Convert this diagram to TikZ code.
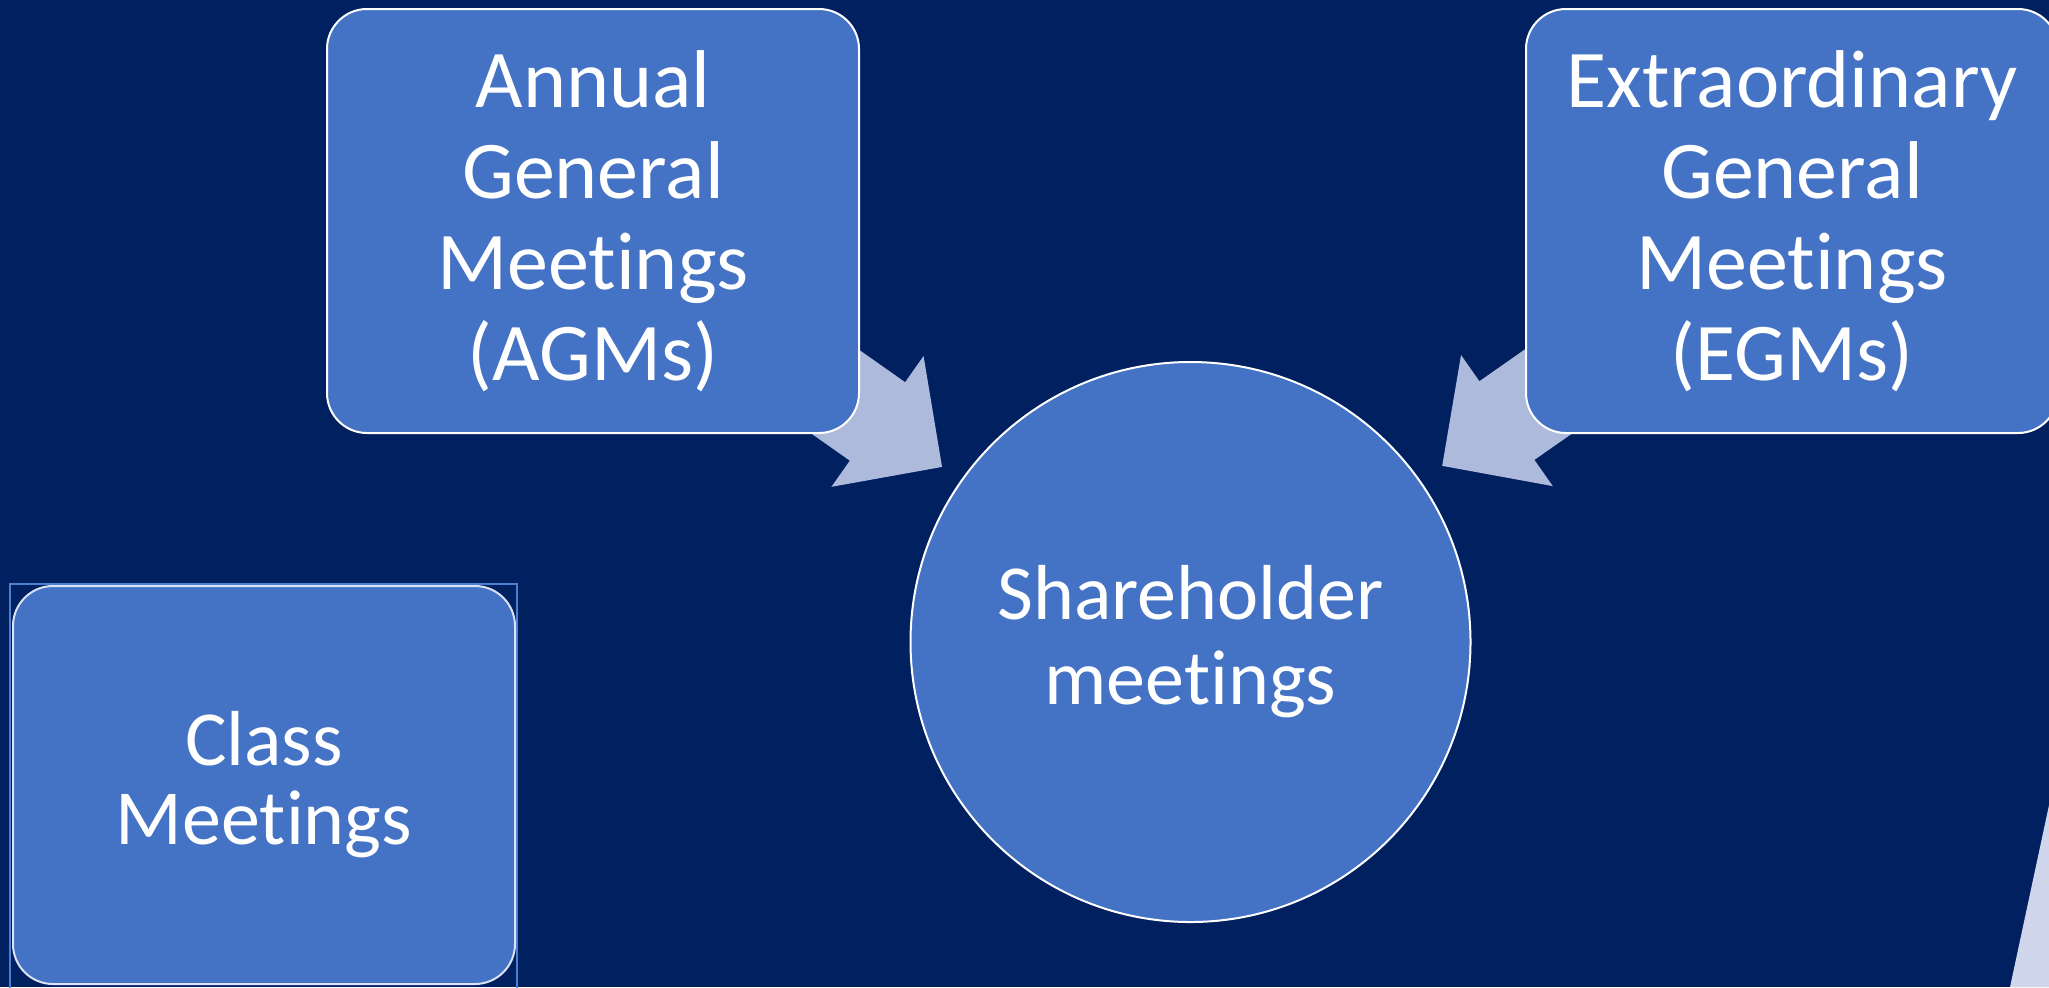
\documentclass[tikz,border=0pt]{standalone}
\usepackage{fontspec}
\setmainfont{Carlito}[Ligatures=NoCommon]
\usetikzlibrary{calc}

\definecolor{navy}{HTML}{002060}
\definecolor{boxblue}{HTML}{4472C4}
\definecolor{arrowblue}{HTML}{AEBADC}
\definecolor{paleblue}{HTML}{CFD5EA}
\definecolor{frameblue}{HTML}{4F7FD2}

\pgfdeclarelayer{backdrop}
\pgfdeclarelayer{arrows}
\pgfsetlayers{backdrop,arrows,main}

\tikzset{
  meeting/.style={draw=white, line width=1pt, fill=boxblue, text=white,
    align=center, inner sep=0pt},
  typebox/.style={meeting, rounded corners=20pt, minimum width=266pt,
    minimum height=212pt, font=\fontsize{41}{45.5}\selectfont},
  hubcircle/.style={meeting, circle, minimum size=280pt,
    font=\fontsize{39}{42.5}\selectfont},
  feeder/.style={fill=arrowblue}
}

% block arrow from the centre of #1 towards the centre of #2
\newcommand\feedarrow[2]{%
  \fill[feeder] ($(#1.center)!100pt!(#2.center)!24pt!90:(#2.center)$)
    -- ($(#1.center)!174pt!(#2.center)!24pt!90:(#2.center)$)
    -- ($(#1.center)!174pt!(#2.center)!40pt!90:(#2.center)$)
    -- ($(#1.center)!213.5pt!(#2.center)$)
    -- ($(#1.center)!174pt!(#2.center)!40pt!-90:(#2.center)$)
    -- ($(#1.center)!174pt!(#2.center)!24pt!-90:(#2.center)$)
    -- ($(#1.center)!100pt!(#2.center)!24pt!-90:(#2.center)$) -- cycle;}

\begin{document}
\begin{tikzpicture}[x=0.5pt, y=-0.5pt]

\useasboundingbox (0,0) rectangle (2049,987);
\begin{pgfonlayer}{backdrop}
\fill[navy] (0,0) rectangle (2049,987);
\fill[paleblue] (2049,805) -- (2010,987) -- (2060,987) -- (2060,805) -- cycle;
\end{pgfonlayer}

\node[hubcircle] (hub) at (1190.5,642) {Shareholder\\meetings};

\node[typebox] (agm) at (593,221) {Annual\\General\\Meetings\\(AGMs)};
\node[typebox] (egm) at (1792,221) {Extraordinary\\General\\Meetings\\(EGMs)};

\draw[frameblue, line width=0.75pt] (10,584) rectangle (517,995);
\node[meeting, draw=white!80!boxblue, rounded corners=20pt,
  minimum width=251pt, minimum height=199pt,
  font=\fontsize{39}{39.5}\selectfont] (cls) at (264,785) {Class\\Meetings};

\begin{pgfonlayer}{arrows}
\feedarrow{agm}{hub}
\feedarrow{egm}{hub}
\end{pgfonlayer}

\end{tikzpicture}
\end{document}
